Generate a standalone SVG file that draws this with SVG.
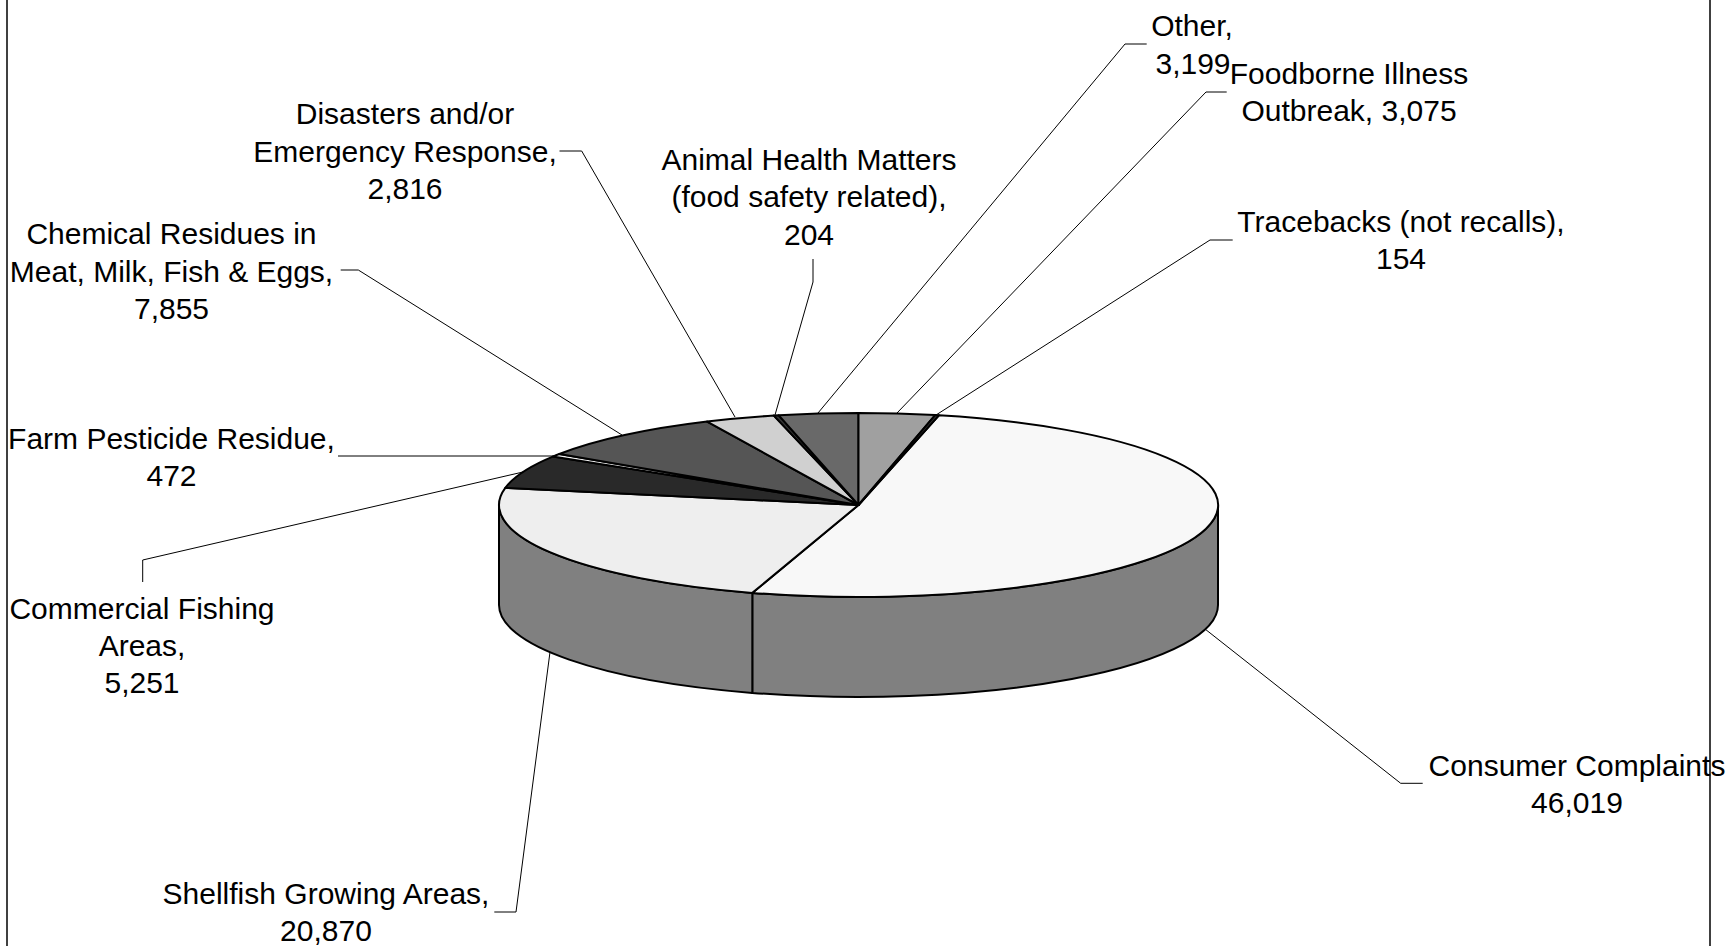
<svg xmlns="http://www.w3.org/2000/svg" width="1728" height="946" viewBox="0 0 1728 946">
<style>
.bg{fill:#ffffff}
.frame{stroke:#000;stroke-width:1.5;fill:none}
.top{stroke:#000;stroke-width:2;stroke-linejoin:round}
.side{fill:#808080;stroke:#000;stroke-width:2;stroke-linejoin:round}
.lead{fill:none;stroke:#000;stroke-width:1}
.lbl{font-family:"Liberation Sans",Arial,sans-serif;font-size:30px;fill:#000;text-anchor:middle}
</style>
<rect class="bg" x="0" y="0" width="1728" height="946"/>
<g id="frame">
<line class="frame" x1="7" y1="0" x2="7" y2="946"/>
<line class="frame" x1="1710" y1="0" x2="1710" y2="946"/>
</g>
<g id="connectors">
<polyline class="lead" points="1146.7,44 1125,44 818,413"/>
<polyline class="lead" points="1226.7,92 1206,92 897,413"/>
<polyline class="lead" points="1232.7,240 1210,240 936,415"/>
<polyline class="lead" points="813,259 813,282 775,415"/>
<polyline class="lead" points="559.5,151 581.7,151 735,417"/>
<polyline class="lead" points="340.7,270 358.3,270 622,435"/>
<polyline class="lead" points="338,456 557,456"/>
<polyline class="lead" points="142.7,582 142.7,560 523,472"/>
<polyline class="lead" points="494.3,912 516,912 550,652"/>
<polyline class="lead" points="1422.7,783.3 1400.7,783.3 1205,629"/>
</g>
<g id="slice-consumer">
<path class="side" d="M1218,505 L1218,605 A359.5,92 0 0 1 752.31,692.89 L752.31,592.89 A359.5,92 0 0 0 1218,505 Z"/>
<path class="top" fill="#f8f8f8" d="M858.5,505 L938.93,415.33 A359.5,92 0 1 1 752.31,592.89 Z"/>
<text class="lbl" x="1577" y="775.5">Consumer Complaints</text>
<text class="lbl" x="1577" y="812.5">46,019</text>
</g>
<g id="slice-shellfish">
<path class="side" d="M752.31,592.89 L752.31,692.89 A359.5,92 0 0 1 499,605 L499,505 A359.5,92 0 0 0 752.31,592.89 Z"/>
<path class="top" fill="#eeeeee" d="M858.5,505 L752.31,592.89 A359.5,92 0 0 1 505.30,487.86 Z"/>
<text class="lbl" x="326" y="903.5">Shellfish Growing Areas,</text>
<text class="lbl" x="326" y="940.5">20,870</text>
</g>
<g id="slice-commercial">
<path class="top" fill="#292929" d="M858.5,505 L505.30,487.86 A359.5,92 0 0 1 552.81,456.58 Z"/>
<text class="lbl" x="142" y="618.5">Commercial Fishing</text>
<text class="lbl" x="142" y="655.5">Areas,</text>
<text class="lbl" x="142" y="692.5">5,251</text>
</g>
<g id="slice-farm">
<path class="top" fill="#f0f0f0" d="M858.5,505 L552.81,456.58 A359.5,92 0 0 1 559.28,454.01 Z"/>
<text class="lbl" x="171.5" y="448.5">Farm Pesticide Residue,</text>
<text class="lbl" x="171.5" y="485.5">472</text>
</g>
<g id="slice-chemical">
<path class="top" fill="#555555" d="M858.5,505 L559.28,454.01 A359.5,92 0 0 1 707.13,421.55 Z"/>
<text class="lbl" x="171.5" y="244">Chemical Residues in</text>
<text class="lbl" x="171.5" y="281.5">Meat, Milk, Fish &amp; Eggs,</text>
<text class="lbl" x="171.5" y="319">7,855</text>
</g>
<g id="slice-disasters">
<path class="top" fill="#d0d0d0" d="M858.5,505 L707.13,421.55 A359.5,92 0 0 1 773.81,415.59 Z"/>
<text class="lbl" x="405" y="124">Disasters and/or</text>
<text class="lbl" x="405" y="161.5">Emergency Response,</text>
<text class="lbl" x="405" y="199">2,816</text>
</g>
<g id="slice-animal">
<path class="top" fill="#333333" d="M858.5,505 L773.81,415.59 A359.5,92 0 0 1 778.80,415.29 Z"/>
<text class="lbl" x="809" y="169.5">Animal Health Matters</text>
<text class="lbl" x="809" y="207">(food safety related),</text>
<text class="lbl" x="809" y="244.5">204</text>
</g>
<g id="slice-other">
<path class="top" fill="#696969" d="M858.5,505 L778.80,415.29 A359.5,92 0 0 1 858.5,413 Z"/>
<text class="lbl" x="1192" y="36">Other,</text>
<text class="lbl" x="1193" y="74">3,199</text>
</g>
<g id="slice-foodborne">
<path class="top" fill="#a0a0a0" d="M858.5,505 L858.5,413 A359.5,92 0 0 1 935.16,415.12 Z"/>
<text class="lbl" x="1349" y="83.5">Foodborne Illness</text>
<text class="lbl" x="1349" y="121">Outbreak, 3,075</text>
</g>
<g id="slice-tracebacks">
<path class="top" fill="#333333" d="M858.5,505 L935.16,415.12 A359.5,92 0 0 1 938.93,415.33 Z"/>
<text class="lbl" x="1401" y="231.5">Tracebacks (not recalls),</text>
<text class="lbl" x="1401" y="269">154</text>
</g>
</svg>
